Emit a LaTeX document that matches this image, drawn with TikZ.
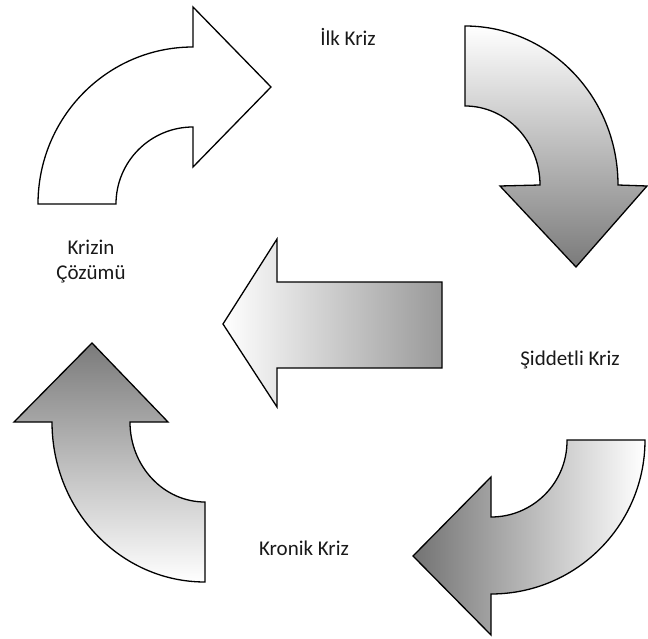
\documentclass[tikz,border=0pt]{standalone}
\usepackage{fontspec}
\setmainfont{Carlito}
\begin{document}
\begin{tikzpicture}[x=1pt,y=-1pt,
  arrowshape/.style={draw=black,line width=1.3pt,line join=miter},
  lbl/.style={font=\fontsize{21}{25}\selectfont,text=black!90,align=center,inner sep=0pt}]
\useasboundingbox[fill=white] (0,0) rectangle (648,639);
% top-left white curved arrow
\path[arrowshape,fill=white] (38,204) arc[start angle=180,end angle=270,x radius=155,y radius=157]
  -- (193,7) -- (271,87) -- (193,167) -- (193,127)
  arc[start angle=270,end angle=180,radius=77] -- cycle;
% top-right curved arrow pointing down
\path[arrowshape,top color=white,bottom color=black!52] (465,26)
  arc[start angle=270,end angle=360,x radius=153,y radius=159]
  -- (647,186) -- (576,267) -- (500,186) -- (540,185)
  arc[start angle=0,end angle=-90,x radius=75,y radius=79] -- cycle;
% central arrow pointing left
\path[arrowshape,left color=white,right color=black!40]
  (223,324) -- (277,239) -- (277,282) -- (442,282) -- (442,368) -- (277,368) -- (277,407) -- cycle;
% bottom-left curved arrow pointing up
\path[arrowshape,top color=black!52,bottom color=white]
  (14,422) -- (52,422) arc[start angle=180,end angle=90,x radius=153,y radius=160]
  -- (205,502) arc[start angle=90,end angle=180,x radius=75,y radius=80]
  -- (168,422) -- (92,343) -- cycle;
% bottom-right curved arrow pointing left
\path[arrowshape,left color=black!55,right color=white]
  (567,440) -- (645,440) arc[start angle=0,end angle=90,radius=154]
  -- (491,635) -- (413,556) -- (491,477) -- (491,517)
  arc[start angle=90,end angle=0,radius=76] -- cycle;
% labels
\node[lbl] (ilk) at (348,37) {İlk Kriz};
\node[lbl] (cozum) at (91,262) {Krizin\\Çözümü};
\node[lbl] (siddet) at (570,360) {Şiddetli Kriz};
\node[lbl] (kronik) at (304,548) {Kronik Kriz};
\end{tikzpicture}
\end{document}
